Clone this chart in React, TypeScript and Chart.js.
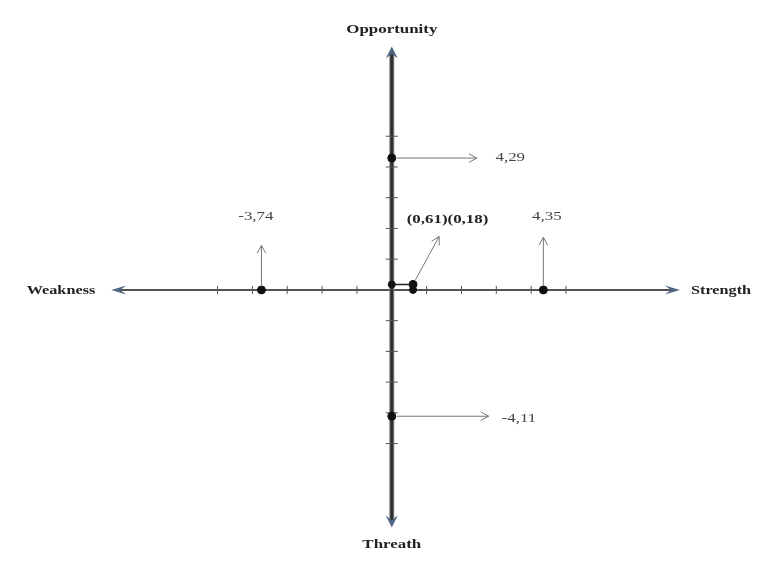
import React, { useEffect, useRef } from "react";
import { Chart, registerables } from "chart.js";

Chart.register(...registerables);

// Strategy factor scores
const pointLabels = ["Opportunity", "Threat", "Weakness", "Strength", "Position"];
const pointX = [0, 0, -3.74, 4.35, 0.61];
const pointY = [4.29, -4.11, 0, 0, 0.18];
const valueTexts = ["4,29", "-4,11", "-3,74", "4,35", "(0,61)(0,18)"];

// callout arrow tips and label anchors (data units)
const arrowEndX = [2.44, 2.78, -3.74, 4.35, 1.36];
const arrowEndY = [4.29, -4.11, 1.45, 1.71, 1.74];
const textX = [3.4, 3.65, -3.9, 4.45, 1.6];
const textY = [4.29, -4.2, 2.39, 2.39, 2.29];

// axes
const axisTicks = [-5, -4, -3, -2, -1, 1, 2, 3, 4, 5];
const axisNames = ["Opportunity", "Threath", "Weakness", "Strength"];
const xRange = [-11.1, 10.51];
const yRange = [-8.69, 9.27];
const xAxisEnds = [-8.05, 8.27];
const yAxisEnds = [-7.73, 7.92];

const STRETCH = 1.3;

const axesPlugin = {
  id: "swotAxes",
  beforeDatasetsDraw(chart: any) {
    const { ctx, scales } = chart;
    const xs = scales.x;
    const ys = scales.y;
    const X = (v: number) => xs.getPixelForValue(v);
    const Y = (v: number) => ys.getPixelForValue(v);
    const x0 = X(0);
    const y0 = Y(0);
    ctx.save();

    // horizontal axis
    ctx.strokeStyle = "#1a1a1a";
    ctx.lineWidth = 1.5;
    ctx.beginPath();
    ctx.moveTo(X(xAxisEnds[0]) + 6, y0);
    ctx.lineTo(X(xAxisEnds[1]) - 6, y0);
    ctx.stroke();

    // vertical axis
    ctx.strokeStyle = "#8a8a8a";
    ctx.lineWidth = 5;
    ctx.beginPath();
    ctx.moveTo(x0, Y(yAxisEnds[1]) + 6);
    ctx.lineTo(x0, Y(yAxisEnds[0]) - 6);
    ctx.stroke();
    ctx.strokeStyle = "#2e2e2e";
    ctx.lineWidth = 3;
    ctx.beginPath();
    ctx.moveTo(x0, Y(yAxisEnds[1]) + 6);
    ctx.lineTo(x0, Y(yAxisEnds[0]) - 6);
    ctx.stroke();

    // ticks
    ctx.strokeStyle = "#555";
    ctx.lineWidth = 1;
    axisTicks.forEach((t) => {
      const px = X(t);
      ctx.beginPath();
      ctx.moveTo(px, y0 - 4);
      ctx.lineTo(px, y0 + 4);
      ctx.stroke();
      const py = Y(t);
      ctx.beginPath();
      ctx.moveTo(x0 - 6, py);
      ctx.lineTo(x0 + 6, py);
      ctx.stroke();
    });

    // arrow heads on axes
    ctx.fillStyle = "#4f6584";
    const head = (tx: number, ty: number, dx: number, dy: number, len: number, w: number) => {
      const nx = -dy, ny = dx;
      ctx.beginPath();
      ctx.moveTo(tx, ty);
      ctx.lineTo(tx - dx * len + nx * w, ty - dy * len + ny * w);
      ctx.lineTo(tx - dx * len * 0.6, ty - dy * len * 0.6);
      ctx.lineTo(tx - dx * len - nx * w, ty - dy * len - ny * w);
      ctx.closePath();
      ctx.fill();
    };
    head(X(xAxisEnds[1]), y0, 1, 0, 15, 4.5);
    head(X(xAxisEnds[0]), y0, -1, 0, 15, 4.5);
    head(x0, Y(yAxisEnds[1]), 0, -1, 12, 6);
    head(x0, Y(yAxisEnds[0]), 0, 1, 12, 6);

    // projection lines for position
    const last = pointX.length - 1;
    ctx.strokeStyle = "#222";
    ctx.lineWidth = 1.5;
    ctx.beginPath();
    ctx.moveTo(x0, Y(pointY[last]));
    ctx.lineTo(X(pointX[last]), Y(pointY[last]));
    ctx.lineTo(X(pointX[last]), y0);
    ctx.stroke();

    // callout arrows
    ctx.strokeStyle = "#777";
    ctx.lineWidth = 1;
    pointX.forEach((px, i) => {
      const sx = X(px), sy = Y(pointY[i]);
      const ex = X(arrowEndX[i]), ey = Y(arrowEndY[i]);
      const ang = Math.atan2(ey - sy, ex - sx);
      const startOff = 5;
      ctx.beginPath();
      ctx.moveTo(sx + Math.cos(ang) * startOff, sy + Math.sin(ang) * startOff);
      ctx.lineTo(ex, ey);
      ctx.stroke();
      const hl = 9, ha = 0.5;
      ctx.beginPath();
      ctx.moveTo(ex - Math.cos(ang - ha) * hl, ey - Math.sin(ang - ha) * hl);
      ctx.lineTo(ex, ey);
      ctx.lineTo(ex - Math.cos(ang + ha) * hl, ey - Math.sin(ang + ha) * hl);
      ctx.stroke();
    });

    const text = (t: string, x: number, y: number, align: string) => {
      ctx.save();
      ctx.translate(x, y);
      ctx.scale(STRETCH, 1);
      ctx.textAlign = align;
      ctx.textBaseline = "middle";
      ctx.fillText(t, 0, 0);
      ctx.restore();
    };

    // value labels
    valueTexts.forEach((t, i) => {
      ctx.fillStyle = i === last ? "#222" : "#444";
      ctx.font = (i === last ? "bold " : "") + "13px 'Liberation Serif', serif";
      text(t, X(textX[i]), Y(textY[i]), "center");
    });

    // axis names
    ctx.fillStyle = "#222";
    ctx.font = "bold 13px 'Liberation Serif', serif";
    text(axisNames[0], x0, Y(yAxisEnds[1]) - 17, "center");
    text(axisNames[1], x0, Y(yAxisEnds[0]) + 17, "center");
    ctx.font = "bold 12.5px 'Liberation Serif', serif";
    text(axisNames[2], X(xAxisEnds[0]) - 16, y0 + 1, "right");
    text(axisNames[3], X(xAxisEnds[1]) + 11, y0 + 1, "left");
    ctx.restore();
  },
};

export default function App() {
  const ref = useRef<HTMLCanvasElement>(null);
  useEffect(() => {
    document.body.style.margin = "0";
    const last = pointX.length - 1;
    const dots = pointX.map((x, i) => ({ x, y: pointY[i] }));
    const projDots = [
      { x: 0, y: pointY[last] },
      { x: pointX[last], y: 0 },
    ];
    const chart = new Chart(ref.current!, {
      type: "scatter",
      data: {
        datasets: [
          {
            label: "Scores",
            data: dots,
            backgroundColor: "#111",
            borderColor: "#111",
            pointRadius: 4,
          },
          {
            label: "Projection",
            data: projDots,
            backgroundColor: "#111",
            borderColor: "#111",
            pointRadius: 3.5,
          },
        ],
      },
      options: {
        animation: false,
        responsive: false,
        maintainAspectRatio: false,
        layout: { padding: 0 },
        plugins: { legend: { display: false }, tooltip: { enabled: false }, title: { display: false } },
        scales: {
          x: { type: "linear", min: xRange[0], max: xRange[1], display: false },
          y: { type: "linear", min: yRange[0], max: yRange[1], display: false },
        },
      },
      plugins: [axesPlugin],
    });
    return () => chart.destroy();
  }, []);
  return (
    <div style={{ position: "absolute", left: 0, top: 0, width: 763, height: 562, background: "#fff" }}>
      <canvas ref={ref} width={763} height={562} style={{ width: 763, height: 562 }} />
    </div>
  );
}
